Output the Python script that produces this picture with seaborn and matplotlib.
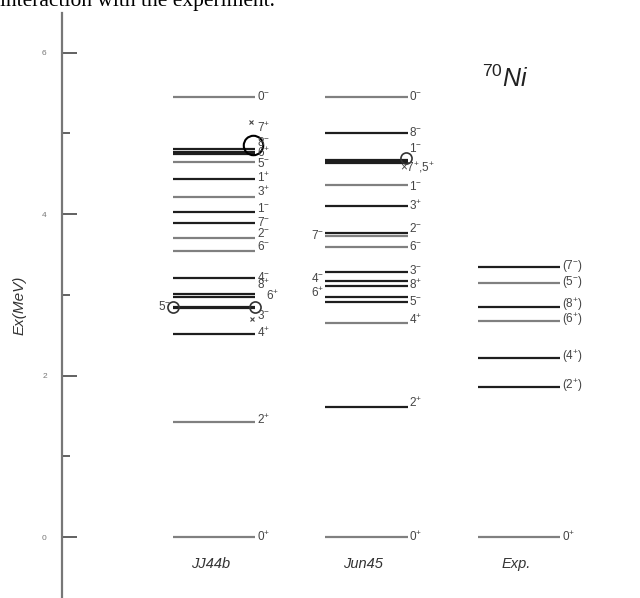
import matplotlib
matplotlib.use("Agg")
import matplotlib.pyplot as plt
import seaborn as sns

# level energies (MeV) and spin labels, low to high
models = ["JJ44b", "Jun45", "Exp."]

jj44b_e = [0.00, 1.42, 2.52, 2.84, 2.85, 2.97, 3.01, 3.21, 3.54, 3.70, 3.89,
           4.02, 4.21, 4.44, 4.64, 4.74, 4.77, 4.80, 5.45]
jj44b_j = ["0+", "2+", "4+", "3-", "5-", "6+", "8+", "4-", "6-", "2-", "7-",
           "1-", "3+", "1+", "5-", "6+", "8-", "7+", "0-"]

jun45_e = [0.00, 1.61, 2.65, 2.91, 2.97, 3.11, 3.17, 3.28, 3.59, 3.73, 3.76,
           4.10, 4.36, 4.63, 4.65, 4.67, 5.00, 5.45]
jun45_j = ["0+", "2+", "4+", "5-", "6+", "8+", "4-", "3-", "6-", "7-", "2-",
           "3+", "1-", "5+", "7+", "1-", "8-", "0-"]

exp_e = [0.00, 1.86, 2.22, 2.67, 2.85, 3.14, 3.35]
exp_j = ["0+", "(2+)", "(4+)", "(6+)", "(8+)", "(5-)", "(7-)"]

# ---- layout / style ----
jj44b_lab_y = [0.0, 1.45, 2.52, 2.74, 2.85, 2.99, 3.12, 3.22, 3.60, 3.76, 3.90,
               4.07, 4.27, 4.44, 4.63, 4.75, 4.89, 5.07, 5.45]
jj44b_side = ["R"] * 19
jj44b_side[4] = "L"
jj44b_dx = [0.0] * 19
jj44b_dx[5] = 0.06
jj44b_shade = ["g", "g", "k", "k", "k", "k", "k", "k", "g", "g", "k",
               "k", "g", "k", "g", "k", "k", "k", "g"]

jun45_lab_y = [0.0, 1.66, 2.69, 2.92, 3.02, 3.12, 3.20, 3.30, 3.60, 3.74, 3.82,
               4.10, 4.34, 4.57, 4.57, 4.81, 5.01, 5.45]
jun45_side = ["R", "R", "R", "R", "L", "R", "L", "R", "R", "L", "R",
              "R", "R", "", "X", "R", "R", "R"]
jun45_dx = [0.0] * 18
jun45_shade = ["g", "k", "g", "k", "k", "k", "k", "k", "g", "g", "k",
               "k", "g", "k", "k", "k", "k", "g"]

exp_lab_y = [0.0, 1.88, 2.24, 2.69, 2.88, 3.16, 3.36]
exp_side = ["R"] * 7
exp_dx = [0.0] * 7
exp_shade = ["g", "k", "k", "g", "k", "g", "k"]

sns.set_style("white")
plt.rcParams["font.family"] = ["Liberation Sans", "DejaVu Sans"]
plt.rcParams["mathtext.fontset"] = "custom"
plt.rcParams["mathtext.rm"] = "Liberation Sans"
plt.rcParams["mathtext.it"] = "Liberation Sans:italic"

colors = {"k": "#1e1e1e", "g": "#808080"}
hw = 0.27
lab_fs = 8.5


def fmt(j):
    # "(7-)" -> "(7$^{-}$)"
    out = ""
    for ch in j:
        if ch in "+-":
            out += "$^{" + ch + "}$"
        else:
            out += ch
    return out


fig = plt.figure(figsize=(6.4, 5.98), dpi=100)
ax = fig.add_axes([62 / 640, 0, 1 - 62 / 640, 1 - 13 / 598])

columns = [(jj44b_e, jj44b_j, jj44b_lab_y, jj44b_side, jj44b_shade, jj44b_dx),
           (jun45_e, jun45_j, jun45_lab_y, jun45_side, jun45_shade, jun45_dx),
           (exp_e, exp_j, exp_lab_y, exp_side, exp_shade, exp_dx)]

for i, (es, js, ly, sides, shades, dxs) in enumerate(columns):
    for k, (e, j) in enumerate(zip(es, js)):
        ax.hlines(e, i - hw, i + hw, color=colors[shades[k]], lw=1.6)
        s = sides[k]
        if s == "R":
            ax.text(i + hw + 0.01 + dxs[k], ly[k], fmt(j), ha="left", va="center",
                    fontsize=lab_fs, color="#444")
        elif s == "L":
            ax.text(i - hw - 0.01, ly[k], fmt(j), ha="right", va="center",
                    fontsize=lab_fs, color="#444")
        elif s == "X":
            txt = "×" + fmt(j) + "," + fmt(js[k - 1])
            ax.text(i + hw - 0.05, ly[k], txt, ha="left", va="center",
                    fontsize=lab_fs, color="#444")
    ax.text(i - 0.02, -0.33, models[i], ha="center", va="center",
            fontsize=10.5, style="italic", color="#333")

# open circle / cross markers on levels
ax.plot([0.256], [4.85], "o", mfc="none", mec="k", ms=14, mew=1.5)
ax.plot([-hw, hw], [2.85, 2.85], "o", mfc="none", mec="#333", ms=8, mew=1.2)
ax.plot([1 + hw - 0.01], [4.69], "o", mfc="none", mec="#333", ms=8, mew=1.2)
ax.plot([0.24, 0.25], [5.14, 2.70], "x", color="#444", ms=3, mew=0.8)

ax.text(1.76, 5.57, r"$^{\mathit{70}}\mathit{Ni}$", fontsize=18, color="#222",
        ha="left", va="baseline")

ax.set_xlim(-152 / 152.5, 426 / 152.5)
ax.set_ylim(-0.755, 6.49)
ax.set_yticks([0, 2, 4, 6])
ax.set_yticks([1, 3, 5], minor=True)
ax.set_xticks([])
ax.tick_params(axis="y", which="major", direction="in", length=11, width=1.3,
               color="#555", labelsize=6, labelcolor="#777", pad=11, left=True)
ax.tick_params(axis="y", which="minor", direction="in", length=6, width=1.3,
               color="#555", left=True)
for side in ["top", "right", "bottom"]:
    ax.spines[side].set_visible(False)
ax.spines["left"].set_color("#777")
ax.spines["left"].set_linewidth(1.6)
ax.set_ylabel("Ex(MeV)", fontsize=11, style="italic", color="#333", labelpad=11)
ax.patch.set_alpha(0)

fig.text(0.0, 1 - 6 / 598, "interaction with the experiment.",
         family="Liberation Serif", fontsize=15.5, color="black", va="baseline")

fig.savefig("out.png", dpi=100)
